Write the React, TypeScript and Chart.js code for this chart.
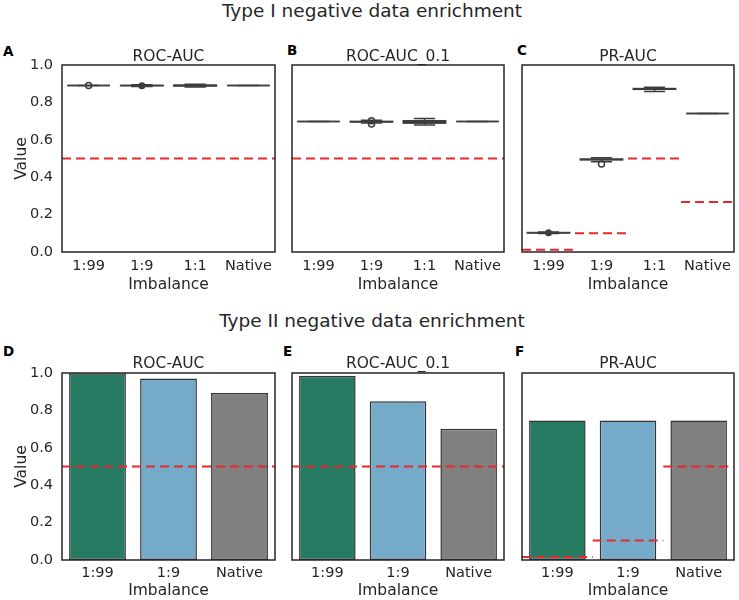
import { useEffect, useRef } from "react";
import { Chart, registerables } from "chart.js";

Chart.register(...registerables);

const FONT = "'DejaVu Sans', Verdana, sans-serif";
const TEXT = "#262626";
const EDGE = "#3d3d3d";
const RED = "#e8282d";

const typeILabels = ["1:99", "1:9", "1:1", "Native"];
const typeIILabels = ["1:99", "1:9", "Native"];

// box stats per category: [lower whisker, q1, median, q3, upper whisker]
const rocBoxes = [
  [0.89, 0.89, 0.89, 0.89, 0.89],
  [0.885, 0.8895, 0.89, 0.8905, 0.895],
  [0.883, 0.8875, 0.89, 0.8925, 0.897],
  [0.89, 0.89, 0.89, 0.89, 0.89],
];
const rocFliers = [[0.891], [0.8895], [], []];
const rocFliersFilled = [false, true, false, false];

const roc01Boxes = [
  [0.698, 0.698, 0.698, 0.698, 0.698],
  [0.69, 0.6955, 0.697, 0.6985, 0.704],
  [0.679, 0.689, 0.696, 0.702, 0.714],
  [0.698, 0.698, 0.698, 0.698, 0.698],
];
const roc01Fliers = [[], [0.685, 0.702], [], []];
const roc01FliersFilled = [false, false, false, false];

const prBoxes = [
  [0.099, 0.102, 0.103, 0.104, 0.107],
  [0.483, 0.493, 0.495, 0.497, 0.504],
  [0.858, 0.87, 0.872, 0.874, 0.881],
  [0.74, 0.74, 0.74, 0.74, 0.74],
];
const prFliers = [[0.103], [0.47], [], []];
const prFliersFilled = [true, false, false, false];

const rocChance = 0.5;
const prChanceI = [0.012, 0.1, 0.5, 0.268];

const rocII = [0.999, 0.97, 0.893];
const roc01II = [0.985, 0.849, 0.702];
const prII = [0.746, 0.746, 0.746];
const prChanceII = [0.016, 0.104, 0.5];
const barColors = ["#277b62", "#75aac9", "#808080"];

type PanelProps = {
  left: number;
  top: number;
  width: number;
  height: number;
  padLeft: number;
  padRight: number;
  title: string;
  labels: string[];
  showY: boolean;
  xHeight: number;
  tickPad: number;
  xTitlePad: number;
  titlePadTop: number;
  titlePadBottom: number;
  bars?: number[];
  boxes?: number[][];
  fliers?: number[][];
  filled?: boolean[];
  chance: number | number[];
};

function Panel(p: PanelProps) {
  const ref = useRef<HTMLCanvasElement>(null);

  useEffect(() => {
    const canvas = ref.current;
    if (!canvas) return;

    const boxPlugin = {
      id: "boxes",
      afterDatasetsDraw(chart: any) {
        if (!p.boxes) return;
        const { ctx, scales } = chart;
        const x = scales.x;
        const y = scales.y;
        const step = x.getPixelForValue(1) - x.getPixelForValue(0);
        const bw = step * 0.8;
        ctx.save();
        ctx.strokeStyle = EDGE;
        ctx.fillStyle = EDGE;
        ctx.lineWidth = 1.5;
        p.boxes.forEach((b, i) => {
          const cx = x.getPixelForValue(i);
          const [lo, q1, med, q3, hi] = b.map((v) => y.getPixelForValue(v));
          ctx.beginPath();
          ctx.moveTo(cx, lo);
          ctx.lineTo(cx, q1);
          ctx.moveTo(cx, q3);
          ctx.lineTo(cx, hi);
          ctx.moveTo(cx - bw / 4, lo);
          ctx.lineTo(cx + bw / 4, lo);
          ctx.moveTo(cx - bw / 4, hi);
          ctx.lineTo(cx + bw / 4, hi);
          ctx.stroke();
          ctx.fillRect(cx - bw / 2, q3, bw, q1 - q3);
          ctx.strokeRect(cx - bw / 2, q3, bw, q1 - q3);
          ctx.beginPath();
          ctx.moveTo(cx - bw / 2, med);
          ctx.lineTo(cx + bw / 2, med);
          ctx.stroke();
          (p.fliers?.[i] || []).forEach((v) => {
            ctx.beginPath();
            ctx.arc(cx, y.getPixelForValue(v), p.filled?.[i] ? 3.5 : 3, 0, Math.PI * 2);
            if (p.filled?.[i]) ctx.fill();
            else ctx.stroke();
          });
        });
        ctx.restore();
      },
    };

    const chancePlugin = {
      id: "chance",
      afterDatasetsDraw(chart: any) {
        const { ctx, scales, chartArea } = chart;
        const x = scales.x;
        const y = scales.y;
        ctx.save();
        ctx.strokeStyle = RED;
        ctx.lineWidth = 2;
        ctx.setLineDash([9, 5]);
        ctx.beginPath();
        if (Array.isArray(p.chance)) {
          const step = x.getPixelForValue(1) - x.getPixelForValue(0);
          p.chance.forEach((v, i) => {
            const cx = x.getPixelForValue(i);
            const py = y.getPixelForValue(v);
            ctx.moveTo(cx - step / 2, py);
            ctx.lineTo(cx + step / 2, py);
          });
        } else {
          const py = y.getPixelForValue(p.chance);
          ctx.moveTo(chartArea.left, py);
          ctx.lineTo(chartArea.right, py);
        }
        ctx.stroke();
        ctx.restore();
      },
    };

    const framePlugin = {
      id: "frame",
      afterDraw(chart: any) {
        const { ctx, chartArea } = chart;
        ctx.save();
        ctx.strokeStyle = TEXT;
        ctx.lineWidth = 1.5;
        ctx.strokeRect(
          chartArea.left,
          chartArea.top,
          chartArea.right - chartArea.left,
          chartArea.bottom - chartArea.top
        );
        ctx.restore();
      },
    };

    const chart = new Chart(canvas, {
      type: "bar",
      data: {
        labels: p.labels,
        datasets: p.bars
          ? [
              {
                data: p.bars,
                backgroundColor: barColors,
                borderColor: "#333333",
                borderWidth: 1.5,
                borderSkipped: false,
                barPercentage: 0.8,
                categoryPercentage: 1,
              },
            ]
          : [],
      },
      options: {
        animation: false,
        responsive: true,
        maintainAspectRatio: false,
        layout: {
          autoPadding: false,
          padding: { left: p.padLeft, right: p.padRight, top: 0, bottom: 0 },
        },
        plugins: {
          legend: { display: false },
          tooltip: { enabled: false },
          title: {
            display: true,
            text: p.title,
            color: TEXT,
            fullSize: false,
            font: { family: FONT, size: 15.5, weight: "normal", lineHeight: 1 },
            padding: { top: p.titlePadTop, bottom: p.titlePadBottom },
          },
        },
        scales: {
          x: {
            type: "category",
            offset: true,
            grid: { display: false, drawTicks: false },
            border: { display: false },
            ticks: {
              color: TEXT,
              font: { family: FONT, size: 14.5 },
              padding: p.tickPad,
              maxRotation: 0,
              autoSkip: false,
            },
            title: {
              display: true,
              text: "Imbalance",
              color: TEXT,
              font: { family: FONT, size: 15.5 },
              padding: { top: 0, bottom: p.xTitlePad },
            },
            afterFit: (s: any) => {
              s.height = p.xHeight;
            },
          },
          y: {
            display: p.showY,
            min: 0,
            max: 1,
            grid: { display: false, drawTicks: false },
            border: { display: false },
            ticks: {
              stepSize: 0.2,
              color: TEXT,
              font: { family: FONT, size: 14.5 },
              padding: 9,
              callback: (v: any) => Number(v).toFixed(1),
            },
            title: {
              display: true,
              text: "Value",
              color: TEXT,
              font: { family: FONT, size: 15.5 },
              padding: { top: 12.5, bottom: 0 },
            },
            afterFit: (s: any) => {
              if (p.showY) s.width = 62;
            },
          },
        },
      } as any,
      plugins: [boxPlugin, chancePlugin, framePlugin],
    });

    return () => chart.destroy();
  }, []);

  return (
    <div
      style={{
        position: "absolute",
        left: p.left,
        top: p.top,
        width: p.width,
        height: p.height,
      }}
    >
      <canvas ref={ref} />
    </div>
  );
}

const textBase: React.CSSProperties = {
  position: "absolute",
  fontFamily: FONT,
  color: TEXT,
  whiteSpace: "nowrap",
};

function Letter({ ch, left, top }: { ch: string; left: number; top: number }) {
  return (
    <div
      style={{
        ...textBase,
        left,
        top,
        fontSize: 13.5,
        lineHeight: "13.5px",
        fontWeight: "bold",
        color: "#000",
      }}
    >
      {ch}
    </div>
  );
}

function Heading({ text, top }: { text: string; top: number }) {
  return (
    <div
      style={{
        ...textBase,
        left: 0,
        width: 744,
        top,
        textAlign: "center",
        fontSize: 18.5,
        lineHeight: "18.5px",
      }}
    >
      {text}
    </div>
  );
}

export default function App() {
  const topRow = {
    top: 46, height: 254, xHeight: 48, tickPad: 6, xTitlePad: 6,
    titlePadTop: 3, titlePadBottom: 0.5,
  };
  const bottomRow = {
    top: 353, height: 247, xHeight: 40, tickPad: 5, xTitlePad: 0,
    titlePadTop: 3, titlePadBottom: 1.5,
  };
  const colA = { left: 0, width: 280, padLeft: 0, padRight: 5, showY: true };
  const colB = { left: 287, width: 222, padLeft: 5, padRight: 5, showY: false };
  const colC = { left: 517, width: 222, padLeft: 5, padRight: 5, showY: false };

  return (
    <div
      style={{
        position: "absolute",
        left: 0,
        top: 0,
        width: 739,
        height: 600,
        background: "#fff",
        overflow: "hidden",
      }}
    >
      <Heading text="Type I negative data enrichment" top={2} />
      <Heading text="Type II negative data enrichment" top={312} />
      <Letter ch="A" left={3} top={45} />
      <Letter ch="B" left={287} top={44} />
      <Letter ch="C" left={517} top={44} />
      <Letter ch="D" left={3} top={345} />
      <Letter ch="E" left={283} top={345} />
      <Letter ch="F" left={515} top={345} />

      <Panel {...topRow} {...colA} title="ROC-AUC" labels={typeILabels}
        boxes={rocBoxes} fliers={rocFliers} filled={rocFliersFilled} chance={rocChance} />
      <Panel {...topRow} {...colB} title="ROC-AUC_0.1" labels={typeILabels}
        boxes={roc01Boxes} fliers={roc01Fliers} filled={roc01FliersFilled} chance={rocChance} />
      <Panel {...topRow} {...colC} title="PR-AUC" labels={typeILabels}
        boxes={prBoxes} fliers={prFliers} filled={prFliersFilled} chance={prChanceI} />

      <Panel {...bottomRow} {...colA} title="ROC-AUC" labels={typeIILabels}
        bars={rocII} chance={rocChance} />
      <Panel {...bottomRow} {...colB} title="ROC-AUC_0.1" labels={typeIILabels}
        bars={roc01II} chance={rocChance} />
      <Panel {...bottomRow} {...colC} title="PR-AUC" labels={typeIILabels}
        bars={prII} chance={prChanceII} />
    </div>
  );
}
